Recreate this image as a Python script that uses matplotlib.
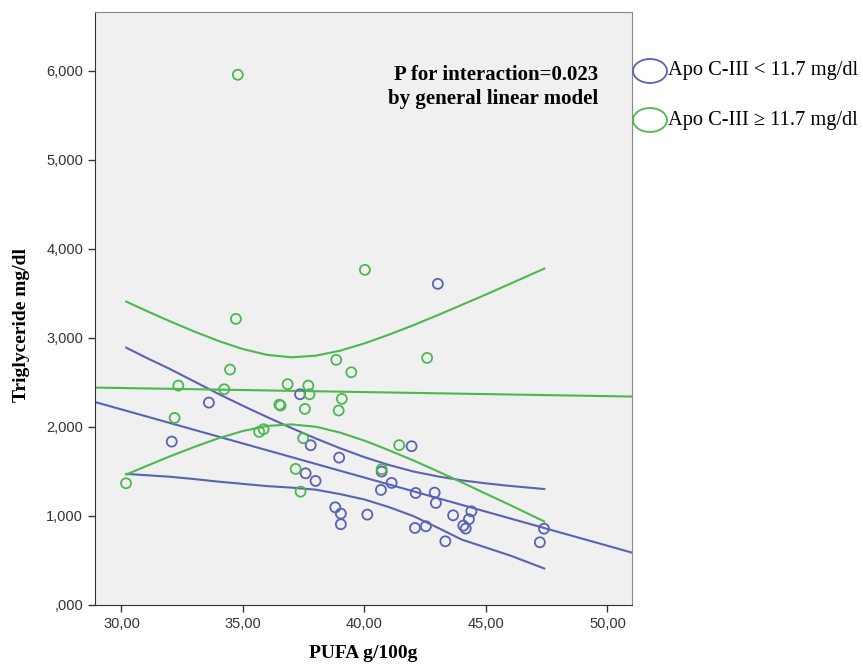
import matplotlib
matplotlib.use('Agg')
import matplotlib.pyplot as plt
from matplotlib.patches import Ellipse
from matplotlib.ticker import FuncFormatter

# scatter points: PUFA g/100g vs triglyceride mg/dl
low_x = [32.07, 33.60, 37.35, 37.79, 38.96, 37.58, 37.99, 38.80, 39.03, 39.03,
         40.12, 40.71, 40.68, 41.94, 41.12, 42.11, 42.89, 42.94, 42.08, 42.53,
         43.33, 43.65, 44.40, 44.30, 44.07, 44.17, 47.39, 47.22, 43.02]
low_y = [1835, 2273, 2367, 1794, 1655, 1479, 1393, 1097, 1026, 907,
         1015, 1498, 1292, 1783, 1371, 1258, 1262, 1146, 865, 884,
         715, 1007, 1052, 963, 891, 858, 857, 704, 3607]

high_x = [30.19, 32.34, 32.19, 34.23, 34.47, 35.67, 35.85, 36.50, 36.55, 36.84,
          37.69, 37.74, 37.55, 37.48, 37.17, 37.37, 38.84, 39.46, 39.07, 38.94,
          40.71, 42.58, 41.43, 34.79, 40.02, 34.71]
high_y = [1367, 2464, 2101, 2423, 2644, 1944, 1974, 2250, 2240, 2480,
          2464, 2367, 2202, 1873, 1528, 1273, 2753, 2614, 2315, 2184,
          1525, 2775, 1795, 5955, 3764, 3213]

# fit lines (drawn across the whole x range)
fit_x = [28.91, 51.01]
low_fit = [2280, 588]
high_fit = [2442, 2341]

# 95% confidence bands read at these x values
band_x = [30.2, 31, 32, 33, 34, 35, 36, 37, 38, 39, 40, 41, 42, 43, 44, 45, 46, 47.4]
low_upper = [2890, 2780, 2650, 2510, 2370, 2237, 2110, 1987, 1870, 1760, 1660, 1573,
             1500, 1445, 1400, 1366, 1337, 1302]
low_lower = [1472, 1458, 1440, 1414, 1385, 1360, 1335, 1318, 1295, 1245, 1185, 1100,
             1000, 870, 735, 645, 555, 410]
high_upper = [3407, 3307, 3186, 3071, 2965, 2874, 2809, 2782, 2800, 2856, 2938, 3035,
              3141, 3253, 3370, 3487, 3608, 3778]
high_lower = [1465, 1557, 1670, 1775, 1873, 1954, 2011, 2028, 2002, 1936, 1846, 1739,
              1625, 1503, 1378, 1249, 1122, 938]

x_ticks = [30, 35, 40, 45, 50]
y_ticks = [0, 1000, 2000, 3000, 4000, 5000, 6000]

blue = '#5a62b4'
green = '#4cb84f'

fig = plt.figure(figsize=(8.63, 6.71), dpi=100)
ax = fig.add_axes([0.110, 0.0984, 0.6223, 0.8837])
ax.set_facecolor('#f0f0f0')

ax.plot(fit_x, low_fit, color=blue, lw=1.5)
ax.plot(band_x, low_upper, color=blue, lw=1.5)
ax.plot(band_x, low_lower, color=blue, lw=1.5)
ax.plot(fit_x, high_fit, color=green, lw=1.5)
ax.plot(band_x, high_upper, color=green, lw=1.5)
ax.plot(band_x, high_lower, color=green, lw=1.5)

ax.scatter(low_x, low_y, s=52, facecolors='none', edgecolors=blue, linewidths=1.3, zorder=3)
ax.scatter(high_x, high_y, s=52, facecolors='none', edgecolors=green, linewidths=1.3, zorder=3)

ax.set_xlim(28.91, 51.01)
ax.set_ylim(0, 6660)
ax.set_xticks(x_ticks)
ax.set_yticks(y_ticks)
ax.xaxis.set_major_formatter(FuncFormatter(lambda v, p: f"{v:.2f}".replace('.', ',')))
ax.yaxis.set_major_formatter(FuncFormatter(lambda v, p: ',000' if v == 0 else f"{v:,.0f}"))

tick_font = ['Liberation Sans Narrow', 'Liberation Sans', 'DejaVu Sans']
for lab in ax.get_xticklabels() + ax.get_yticklabels():
    lab.set_family(tick_font)
    lab.set_fontsize(10.5)
    lab.set_color('#333333')
ax.tick_params(direction='out', length=5, width=1, color='#333333')
for side in ['left', 'bottom']:
    ax.spines[side].set_color('#333333')
for side in ['top', 'right']:
    ax.spines[side].set_color('#888888')

serif = ['Liberation Serif', 'DejaVu Serif']
ax.set_xlabel('PUFA g/100g', family=serif, fontweight='bold', fontsize=14)
ax.set_ylabel('Triglyceride mg/dl', family=serif, fontweight='bold', fontsize=14)
ax.xaxis.set_label_coords(0.5, -0.068)
ax.yaxis.set_label_coords(-0.12, 0.472)

ax.text(0.937, 0.911, 'P for interaction=0.023\nby general linear model',
        transform=ax.transAxes, ha='right', va='top', ma='right',
        family=serif, fontweight='bold', fontsize=15, linespacing=1.3)

# legend outside the plot, drawn by hand to get the big hollow ellipses
W, H = 863.0, 671.0
for yy, col, lab in [(71, blue, 'Apo C-III < 11.7 mg/dl'),
                     (120, green, 'Apo C-III \u2265 11.7 mg/dl')]:
    fig.patches.append(Ellipse((650 / W, 1 - yy / H), 34 / W, 24 / H,
                               transform=fig.transFigure, fill=False,
                               edgecolor=col, lw=1.3))
    fig.text(668 / W, 1 - yy / H, lab, ha='left', va='center',
             family=serif, fontsize=14.7)

fig.savefig('out.png', dpi=100)
